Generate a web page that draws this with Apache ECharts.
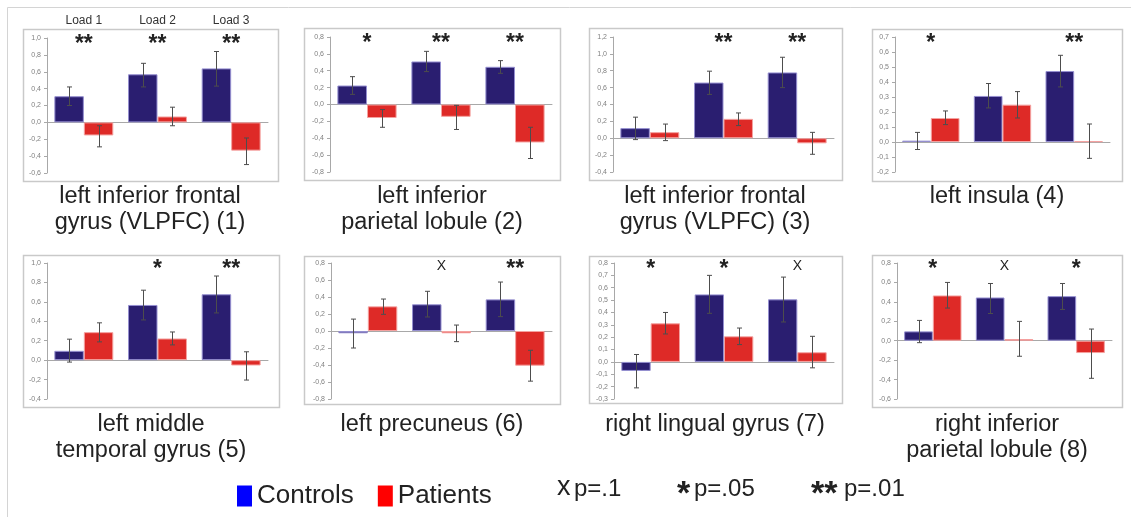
<!DOCTYPE html>
<html><head><meta charset="utf-8">
<script src="https://cdn.jsdelivr.net/npm/echarts/dist/echarts.min.js"></script>
<style>html,body{margin:0;padding:0;background:#fff}#c{width:1131px;height:517px}</style>
</head><body><div id="c"></div>
<script>
// ---------- DATA ----------
const categories = ['Load 1', 'Load 2', 'Load 3'];
const titles = [
  'left inferior frontal\ngyrus (VLPFC) (1)',
  'left inferior\nparietal lobule (2)',
  'left inferior frontal\ngyrus (VLPFC) (3)',
  'left insula (4)',
  'left middle\ntemporal gyrus (5)',
  'left precuneus (6)',
  'right lingual gyrus (7)',
  'right inferior\nparietal lobule (8)'
];
const yMin  = [-0.6, -0.8, -0.4, -0.2, -0.4, -0.8, -0.3, -0.6];
const yMax  = [ 1.0,  0.8,  1.2,  0.7,  1.0,  0.8,  0.8,  0.8];
const yStep = [ 0.2,  0.2,  0.2,  0.1,  0.2,  0.2,  0.1,  0.2];

const controlsMean = [
  [0.31, 0.57, 0.64], [0.225, 0.51, 0.447], [0.12, 0.66, 0.78], [0.009, 0.307, 0.473],
  [0.096, 0.568, 0.678], [-0.027, 0.314, 0.372], [-0.073, 0.546, 0.506], [0.096, 0.445, 0.459]
];
const controlsLow = [
  [0.20, 0.42, 0.43], [0.12, 0.39, 0.37], [-0.016, 0.52, 0.60], [-0.05, 0.227, 0.367],
  [-0.02, 0.414, 0.486], [-0.20, 0.165, 0.169], [-0.21, 0.393, 0.323], [-0.02, 0.28, 0.322]
];
const controlsHigh = [
  [0.42, 0.70, 0.84], [0.33, 0.63, 0.52], [0.25, 0.795, 0.96], [0.064, 0.39, 0.578],
  [0.216, 0.72, 0.866], [0.14, 0.467, 0.576], [0.06, 0.70, 0.686], [0.209, 0.589, 0.589]
];
const patientsMean = [
  [-0.155, 0.07, -0.335], [-0.16, -0.146, -0.45], [0.072, 0.23, -0.06], [0.16, 0.249, 0.005],
  [0.288, 0.223, -0.055], [0.29, -0.027, -0.408], [0.312, 0.207, 0.078], [0.466, 0.017, -0.127]
];
const patientsLow = [
  [-0.29, -0.04, -0.50], [-0.27, -0.296, -0.64], [-0.028, 0.15, -0.19], [0.116, 0.16, -0.109],
  [0.188, 0.157, -0.205], [0.196, -0.125, -0.59], [0.226, 0.14, -0.048], [0.336, -0.16, -0.387]
];
const patientsHigh = [
  [-0.04, 0.18, -0.185], [-0.06, -0.01, -0.27], [0.168, 0.30, 0.07], [0.207, 0.336, 0.12],
  [0.384, 0.29, 0.086], [0.376, 0.07, -0.227], [0.40, 0.274, 0.207], [0.60, 0.199, 0.12]
];
const significance = [
  ['**', '**', '**'], ['*', '**', '**'], ['', '**', '**'], ['*', '', '**'],
  ['', '*', '**'], ['', 'x', '**'], ['*', '*', 'x'], ['*', 'x', '*']
];
const legendNames = ['Controls', 'Patients'];
const pLegend = [['x', 'p=.1'], ['*', 'p=.05'], ['**', 'p=.01']];

// ---------- LAYOUT / STYLE ----------
const FONT = 'Liberation Sans, Arial, sans-serif';
const gridPos = [
  {left: 47, top: 38, width: 221, height: 135},
  {left: 330, top: 37, width: 222, height: 135},
  {left: 613, top: 37, width: 221, height: 135},
  {left: 895, top: 37, width: 215, height: 135},
  {left: 47, top: 263, width: 221, height: 136},
  {left: 331, top: 263, width: 221, height: 136},
  {left: 614, top: 263, width: 220, height: 136},
  {left: 897, top: 263, width: 215, height: 136}
];
const boxes = [
  [23, 29, 255, 152], [304, 28, 256, 152], [589, 28, 253, 152], [872, 29, 250, 152],
  [23, 255, 256, 152], [304, 256, 256, 148], [589, 256, 253, 147], [872, 255, 250, 152]
];
const titleCenters = [150, 432, 715, 997, 151, 432, 715, 997];
const titleTops = [184, 184, 184, 184, 412, 412, 412, 412];
const CTRL = '#2a1e70', PAT = '#de2a27';

function fmt(v) { return (Math.round(v * 10) / 10).toFixed(1).replace('.', ','); }

function errRender(off) {
  return function (params, api) {
    const x = api.value(0), lo = api.value(1), hi = api.value(2);
    const pl = api.coord([x, lo]), ph = api.coord([x, hi]);
    const bw = api.size([1, 0])[0];
    const cx = Math.round(pl[0] + off * bw) + 0.5;
    const cap = 2.5;
    const st = {stroke: '#4d4d4d', lineWidth: 1};
    return {type: 'group', children: [
      {type: 'line', shape: {x1: cx, y1: ph[1], x2: cx, y2: pl[1]}, style: st},
      {type: 'line', shape: {x1: cx - cap, y1: ph[1], x2: cx + cap, y2: ph[1]}, style: st},
      {type: 'line', shape: {x1: cx - cap, y1: pl[1], x2: cx + cap, y2: pl[1]}, style: st}
    ]};
  };
}

function sigRender(g) {
  return function (params, api) {
    const s = significance[g][params.dataIndex];
    if (!s) return {type: 'group', children: []};
    const p = api.coord([api.value(0), api.value(1)]);
    const isStar = s.indexOf('*') >= 0;
    return {type: 'text', x: p[0], y: p[1] + (isStar ? 7 : 3), style: {
      text: isStar ? s : 'X', align: 'center', verticalAlign: 'middle',
      fontSize: isStar ? 23 : 14, fontWeight: isStar ? 'bold' : 'normal',
      fontFamily: FONT, fill: '#222'
    }};
  };
}

const grid = [], xAxis = [], yAxis = [], series = [];
for (let g = 0; g < 8; g++) {
  grid.push(Object.assign({containLabel: false}, gridPos[g]));
  xAxis.push({
    type: 'category', gridIndex: g, data: categories,
    axisLine: {show: true, onZero: true, lineStyle: {color: '#a8a8a8', width: 1}},
    axisTick: {show: false}, axisLabel: {show: false}, splitLine: {show: false}
  });
  yAxis.push({
    type: 'value', gridIndex: g, min: yMin[g], max: yMax[g], interval: yStep[g],
    axisLine: {show: true, lineStyle: {color: '#a8a8a8', width: 1}},
    axisTick: {show: true, length: 3, lineStyle: {color: '#a8a8a8'}},
    axisLabel: {fontSize: 7, color: '#808080', fontFamily: FONT, margin: 6, formatter: fmt},
    splitLine: {show: false}
  });
  series.push({
    type: 'bar', name: legendNames[0], xAxisIndex: g, yAxisIndex: g,
    data: controlsMean[g], barGap: '0%', barCategoryGap: '20%',
    itemStyle: {color: CTRL, borderColor: '#958fd0', borderWidth: 1}, z: 2
  });
  series.push({
    type: 'bar', name: legendNames[1], xAxisIndex: g, yAxisIndex: g,
    data: patientsMean[g], barGap: '0%', barCategoryGap: '20%',
    itemStyle: {color: PAT, borderColor: '#f4a19f', borderWidth: 1}, z: 2
  });
  series.push({
    type: 'custom', xAxisIndex: g, yAxisIndex: g, z: 4,
    data: categories.map((c, i) => [i, controlsLow[g][i], controlsHigh[g][i]]),
    renderItem: errRender(-0.2), encode: {x: 0, y: [1, 2]}, silent: true
  });
  series.push({
    type: 'custom', xAxisIndex: g, yAxisIndex: g, z: 4,
    data: categories.map((c, i) => [i, patientsLow[g][i], patientsHigh[g][i]]),
    renderItem: errRender(0.2), encode: {x: 0, y: [1, 2]}, silent: true
  });
  series.push({
    type: 'custom', xAxisIndex: g, yAxisIndex: g, z: 5,
    data: categories.map((c, i) => [i, yMax[g]]),
    renderItem: sigRender(g), encode: {x: 0, y: 1}, silent: true
  });
}
// "Load" labels above panel 1
xAxis.push({
  type: 'category', gridIndex: 0, position: 'top', data: categories,
  axisLine: {show: false}, axisTick: {show: false}, splitLine: {show: false},
  axisLabel: {fontSize: 12, color: '#333', fontFamily: FONT, margin: 11}
});

const graphic = [];
// outer frame (top and left edges)
graphic.push({type: 'line', shape: {x1: 7.5, y1: 7.5, x2: 1131, y2: 7.5}, style: {stroke: '#d4d4d4', lineWidth: 1}, silent: true});
graphic.push({type: 'line', shape: {x1: 7.5, y1: 7.5, x2: 7.5, y2: 517}, style: {stroke: '#d4d4d4', lineWidth: 1}, silent: true});
boxes.forEach(b => graphic.push({
  type: 'rect', shape: {x: b[0] + 0.5, y: b[1] + 0.5, width: b[2], height: b[3]},
  style: {fill: 'none', stroke: '#c9c9c9', lineWidth: 1.5}, silent: true, z: -1
}));
titles.forEach((t, i) => graphic.push({
  type: 'text', x: titleCenters[i], y: titleTops[i], silent: true,
  style: {text: t, align: 'center', verticalAlign: 'top', fontSize: 23.5, lineHeight: 26,
          fontFamily: FONT, fill: '#222'}
}));
// p-value key
const pX = [557, 677, 811];
pLegend.forEach((p, i) => {
  const star = p[0] !== 'x';
  graphic.push({type: 'text', x: pX[i], y: star ? 495 : 488, silent: true,
    style: {text: p[0], align: 'left', verticalAlign: 'middle', fontSize: star ? 34 : 27,
            fontWeight: star ? 'bold' : 'normal', fontFamily: FONT, fill: '#222'}});
  graphic.push({type: 'text', x: pX[i] + (star ? p[0].length * 16 + 1 : 17), y: 489, silent: true,
    style: {text: p[1], align: 'left', verticalAlign: 'middle', fontSize: 24,
            fontFamily: FONT, fill: '#222'}});
});

const chart = echarts.init(document.getElementById('c'), null, {renderer: 'canvas', width: 1131, height: 517});
chart.setOption({
  animation: false,
  backgroundColor: '#fff',
  grid, xAxis, yAxis, series, graphic,
  legend: {
    left: 232, top: 478, itemWidth: 15, itemHeight: 21, itemGap: 24, icon: 'rect',
    selectedMode: false,
    textStyle: {fontSize: 26, color: '#222', fontFamily: FONT},
    data: [
      {name: legendNames[0], itemStyle: {color: '#0000ff', borderWidth: 0}},
      {name: legendNames[1], itemStyle: {color: '#ff0000', borderWidth: 0}}
    ]
  }
});
</script></body></html>
